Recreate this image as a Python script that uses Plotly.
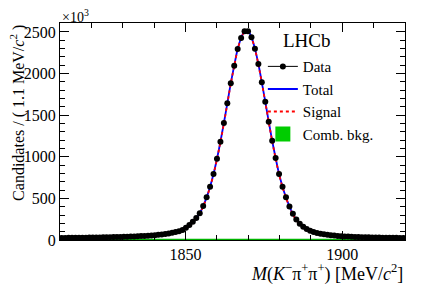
import plotly.graph_objects as go

# ---- data ----
bin_low = 1810.0
bin_width = 1.1
counts = [25, 25, 26, 26, 27, 27, 28, 28, 29, 30,
          30, 31, 32, 33, 34, 35, 36, 37, 38, 40,
          41, 43, 45, 47, 49, 52, 55, 58, 62, 67,
          72, 78, 86, 95, 106, 120, 146, 180, 220, 263,
          321, 409, 513, 641, 793, 977, 1181, 1406, 1643, 1883,
          2095, 2296, 2428, 2508, 2510, 2436, 2300, 2115, 1895, 1662,
          1422, 1193, 986, 793, 641, 513, 404, 314, 245, 196,
          160, 132, 112, 97, 85, 76, 68, 62, 57, 53,
          49, 46, 43, 41, 39, 37, 35, 34, 33, 32,
          31, 30, 29, 28, 28, 27, 26, 26, 25, 25]
total_fit = list(counts)
comb_bkg = [7, 7, 7, 7, 7, 7, 7, 7, 7, 7,
            7, 7, 7, 7, 7, 7, 7, 7, 7, 7,
            6, 6, 6, 6, 6, 6, 6, 6, 6, 6,
            6, 6, 6, 6, 6, 6, 6, 6, 6, 6,
            6, 6, 6, 6, 6, 6, 6, 6, 6, 6,
            6, 6, 6, 6, 6, 6, 6, 6, 6, 6,
            6, 6, 6, 6, 6, 6, 6, 6, 6, 6,
            5, 5, 5, 5, 5, 5, 5, 5, 5, 5,
            5, 5, 5, 5, 5, 5, 5, 5, 5, 5,
            5, 5, 5, 5, 5, 5, 5, 5, 5, 5]
x_tickvals = [1850, 1900]
y_tickvals = [0, 500, 1000, 1500, 2000, 2500]

mass = [bin_low + bin_width * (i + 0.5) for i in range(len(counts))]
signal_fit = [t - b for t, b in zip(total_fit, comb_bkg)]

FONT = "Liberation Serif"

fig = go.Figure()
fig.add_trace(go.Scatter(x=mass, y=comb_bkg, mode="lines", fill="tozeroy",
                         line=dict(color="#00b400", width=1.5),
                         fillcolor="#00cc00", name="Comb. bkg.", showlegend=False))
fig.add_trace(go.Scatter(x=mass, y=total_fit, mode="lines", line=dict(color="#0000ff", width=1.8, shape="spline"),
                         name="Total", showlegend=False))
fig.add_trace(go.Scatter(x=mass, y=signal_fit, mode="lines",
                         line=dict(color="#ff0000", width=1.8, dash="dot", shape="spline"),
                         name="Signal", showlegend=False))
fig.add_trace(go.Scatter(x=mass, y=counts, mode="markers",
                         marker=dict(color="black", size=6),
                         name="Data", showlegend=False))
# legend entries
fig.add_trace(go.Scatter(x=[None], y=[None], mode="lines+markers", name="Data",
                         line=dict(color="black", width=1), marker=dict(color="black", size=6)))
fig.add_trace(go.Scatter(x=[None], y=[None], mode="lines", name="Total",
                         line=dict(color="#0000ff", width=2)))
fig.add_trace(go.Scatter(x=[None], y=[None], mode="lines", name="Signal",
                         line=dict(color="#ff0000", width=2, dash="dot")))
fig.add_trace(go.Scatter(x=[None], y=[None], mode="markers", name="Comb. bkg.",
                         marker=dict(color="#00cc00", symbol="square", size=15)))

axis_common = dict(showgrid=False, zeroline=False, showline=True, linecolor="black", linewidth=1,
                   mirror="ticks", ticks="inside", tickcolor="black", tickwidth=1,
                   tickfont=dict(family=FONT, size=16, color="black"))

fig.update_xaxes(range=[1810, 1920], tickvals=x_tickvals, ticklen=9,
                 minor=dict(dtick=10, ticklen=5, ticks="inside", tickcolor="black"),
                 **axis_common)
fig.update_yaxes(range=[0, 2608], tickvals=y_tickvals, ticklen=9,
                 minor=dict(dtick=100, ticklen=5, ticks="inside", tickcolor="black"),
                 **axis_common)

fig.update_layout(
    width=419, height=282,
    margin=dict(l=52, r=22, t=15, b=50),
    paper_bgcolor="white", plot_bgcolor="white",
    font=dict(family=FONT, color="black"),
    legend=dict(x=0.588, y=0.875, xanchor="left", yanchor="top", bgcolor="rgba(0,0,0,0)",
                font=dict(family=FONT, size=15), tracegroupgap=0, itemwidth=30),
    annotations=[
        dict(text="LHCb", x=0.642, y=0.92, xref="paper", yref="paper", xanchor="left", yanchor="middle",
             showarrow=False, font=dict(family=FONT, size=19)),
        dict(text="×10<sup>3</sup>", x=0.0, y=1.0, xref="paper", yref="paper", xanchor="left", yanchor="bottom",
             showarrow=False, font=dict(family=FONT, size=14), yshift=-4),
        dict(text="Candidates / ( 1.1 MeV/<i>c</i><sup>2</sup> )", x=-0.125, y=1.0, xref="paper", yref="paper",
             xanchor="center", yanchor="top", textangle=-90, showarrow=False,
             font=dict(family=FONT, size=16)),
        dict(text="<i>M</i>(<i>K</i><sup>−</sup>π<sup>+</sup>π<sup>+</sup>) [MeV/<i>c</i><sup>2</sup>]",
             x=1.0, y=-0.15, xref="paper", yref="paper", xanchor="right", yanchor="middle",
             showarrow=False, font=dict(family=FONT, size=18)),
    ],
)

fig.write_html("out.html")
